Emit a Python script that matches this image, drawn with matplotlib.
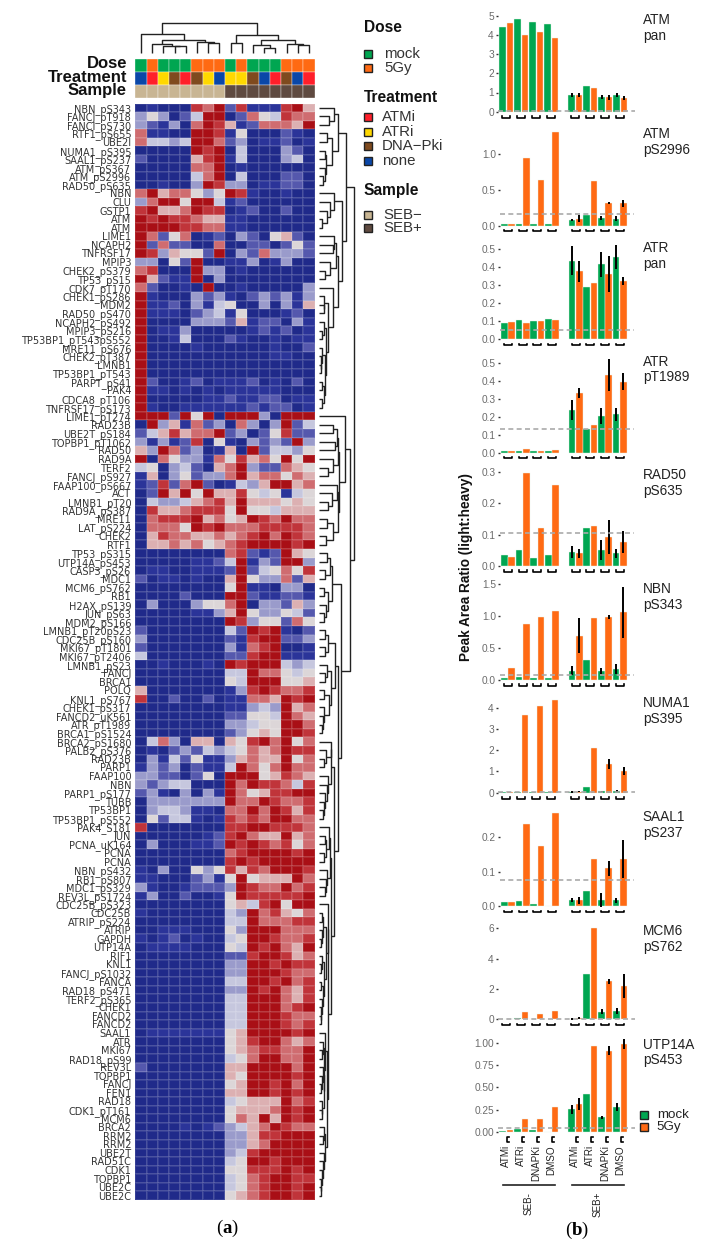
import numpy as np
import matplotlib
matplotlib.use("Agg")
import matplotlib.pyplot as plt
from matplotlib.colors import ListedColormap
from matplotlib.patches import Rectangle

W, H = 705, 1244

plt.rcParams.update({
    "font.family": ["Liberation Sans", "DejaVu Sans"],
    "mathtext.fontset": "custom",
    "mathtext.bf": "Liberation Serif:bold",
    "mathtext.rm": "Liberation Serif",
})

# --- Heatmap data: 0 = dark blue ... 9 = dark red ---
row_labels = [
    "NBN_pS343", "FANCJ_pT918", "FANCI_pS730", "RTF1_pS655", "UBE2I", "NUMA1_pS395", "SAAL1_pS237",
    "ATM_pS367", "ATM_pS2996", "RAD50_pS635", "NBN", "CLU", "GSTP1", "ATM", "ATM", "LIME1", "NCAPH2",
    "TNFRSF17", "MPIP3", "CHEK2_pS379", "TP53_pS15", "CDK7_pT170", "CHEK1_pS286", "MDM2", "RAD50_pS470",
    "NCAPH2_pS492", "MPIP3_pS216", "TP53BP1_pT543pS552", "MRE11_pS676", "CHEK2_pT387", "LMNB1",
    "TP53BP1_pT543", "PARPT_pS41", "PAK4", "CDCA8_pT106", "TNFRSF17_pS173", "LIME1_pT274", "RAD23B",
    "UBE2T_pS184", "TOPBP1_pT1062", "RAD50", "RAD9A", "TERF2", "FANCJ_pS927", "FAAP100_pS667", "ACT",
    "LMNB1_pT20", "RAD9A_pS387", "MRE11", "LAT_pS224", "CHEK2", "RTF1", "TP53_pS315", "UTP14A_pS453",
    "CASP3_pS26", "MDC1", "MCM6_pS762", "RB1", "H2AX_pS139", "JUN_pS63", "MDM2_pS166", "LMNB1_pT20pS23",
    "CDC25B_pS160", "MKI67_pT1801", "MKI67_pT2406", "LMNB1_pS23", "FANCJ", "BRCA1", "POLQ", "KNL1_pS767",
    "CHEK1_pS317", "FANCD2_uK561", "ATR_pT1989", "BRCA1_pS1524", "BRCA2_pS1680", "PALB2_pS376", "RAD23B",
    "PARP1", "FAAP100", "NBN", "PARP1_pS177", "TUBB", "TP53BP1", "TP53BP1_pS552", "PAK4_S181", "JUN",
    "PCNA_uK164", "PCNA", "PCNA", "NBN_pS432", "RB1_pS807", "MDC1_pS329", "REV3L_pS1724", "CDC25B_pS323",
    "CDC25B", "ATRIP_pS224", "ATRIP", "GAPDH", "UTP14A", "RIF1", "KNL1", "FANCJ_pS1032", "FANCA",
    "RAD18_pS471", "TERF2_pS365", "CHEK1", "FANCD2", "FANCD2", "SAAL1", "ATR", "MKI67", "RAD18_pS99",
    "REV3L", "TOPBP1", "FANCJ", "FEN1", "RAD18", "CDK1_pT161", "MCM6", "BRCA2", "RRM2", "RRM2", "UBE2T",
    "RAD51C", "CDK1", "TOPBP1", "UBE2C", "UBE2C",
]
heat_rows = [
    "0100087928111896", "3530249902754877", "3213079861277769", "7110099815000210",
    "7443499723011201", "0000098904000320", "2000068914000340", "0000077901000000",
    "0000047904000220", "0010039833011220", "7967753598100100", "3799599412000000",
    "8966798801200200", "9898876611000000", "9999887711000000", "9725701203205620",
    "9272200700220252", "9836552903273332", "3305290011301300", "7800093301000000",
    "9621190300000000", "7200109001000003", "9100032310232313", "9112031450030316",
    "9111023415000120", "9000033326122031", "9011300000121201", "9001400021001011",
    "9000010000001002", "9000000000001100", "9000000000000000", "9000000000000000",
    "9200120111201020", "9110101011111000", "9000001121122011", "9100111111212201",
    "9992959099930999", "0936172307303924", "2468677923025822", "3131280510323293",
    "6397230160924435", "9075331758675959", "4503420679322765", "1603523379677576",
    "1282792014369967", "0296959668545145", "0433467869666565", "0866788859554666",
    "0788896756987977", "0777598977788887", "0687766767897987", "0667675678999989",
    "0000000078212965", "0000011249132993", "0110011129245758", "2011010069533726",
    "0000000059110330", "0000200099211221", "0300035579033263", "0000011369533542",
    "0000000098355275", "2000000042989102", "3000000021899223", "2000000031789001",
    "4000000022899111", "0010001098999434", "0000000044977545", "0000000054999556",
    "6000000013898778", "8002002011776989", "0000000011343967", "0000000022554976",
    "0000000033455997", "0000000023565998", "0473066065897957", "0102324345767988",
    "0314251136766957", "1323021149757977", "3322025099956876", "3234400097988748",
    "2310303197568899", "0333333397798778", "0344311077979868", "0524410187879977",
    "8000000088998887", "0000001289766967", "0300011298987857", "0000000078999989",
    "0000000089899999", "1030053586879998", "1100023159566697", "3100122239877978",
    "1300200159888889", "0000000056489599", "1000000043978657", "0000000044977788",
    "0011100053999777", "1012010045998778", "0111100054989769", "0000000022899867",
    "0000000033998988", "0000000033999877", "0000000044998978", "0000000033989768",
    "0000000044999768", "0000000044999789", "0000000044999877", "0000000044999878",
    "0111111156999989", "0000000056899767", "0000000056788779", "0000000045799779",
    "2000000066999979", "0000000065999989", "0000000056998979", "0000000066998989",
    "0000000045666978", "0000000056667989", "0000000057696989", "0000101234679877",
    "0000000033688999", "0000000033679999", "0000000034899999", "0000000045998999",
    "0000000055888989", "0000000045789988", "0000000045789989", "0000000056789989",
]

# annotation rows, one entry per heatmap column
dose = ["mock", "5Gy", "mock", "mock", "mock", "5Gy", "5Gy", "5Gy",
        "mock", "5Gy", "mock", "mock", "mock", "5Gy", "5Gy", "5Gy"]
treatment = ["none", "ATMi", "ATRi", "DNA-Pki", "ATMi", "DNA-Pki", "ATRi", "none",
             "ATRi", "ATRi", "DNA-Pki", "none", "ATMi", "DNA-Pki", "none", "ATMi"]
sample = ["SEB-"] * 8 + ["SEB+"] * 8

# dendrograms as (height, left, right), leaves are 1-based positions
col_tree = (30,
            (19, 1, (13, (9, 2, (7, 3, (7, 4, 5))), (10.5, 6, (9.5, 7, 8)))),
            (18, (10, 9, 10), (13, (8, 11, (5, 12, 13)), (9, 14, (7.6, 15, 16)))))

tree_a = (19, (15, 1, (10, 2, 3)), (13, (8, 4, 5), (7, (6, 6, 7), (6, 8, (4, 9, 10)))))
tree_b = (15, 11, (11, 12, (8, 13, (3, 14, 15))))
tree_c = (19, (17, (15, 16, (14, 17, 18)), (11, 19, (6, 20, 21))),
          (14, 22, (9, (5, 23, (5, 24, 25)),
                    (7, (5, 26, (3, 27, 28)),
                     (6, (3, 29, (2, 30, (2, 31, 32))), (5, (3, 33, 34), (3, 35, 36)))))))
tree_w1 = (19, (18, (14, 38, 39), (16, 40, 41)), (14, 42, (9, 43, 44)))
tree_w2 = (19, (18, 45, (13, 46, (9, 47, 48))), (14, (8, 49, 50), (7, 51, 52)))
tree_z1 = (13, (11, (8, 53, 54), (6, 55, 56)), (9, (5, 57, 58), (7, 59, (5, 60, 61))))
tree_p = (9, (6, 62, 63), (6, 64, 65))
tree_q = (12, (8, 66, (6, 67, 68)), (10, (5, 69, 70), (5, 71, (4, 72, (3, 73, 74)))))
tree_r1 = (12, (12, 75, (7, 76, (5, 77, 78))),
           (9, 79, (8, 80, (6, 81, (5, 82, (4, 83, 84))))))
tree_r2 = (11, (10, 85, (7, (6, 86, 87), (5, 88, 89))), (8, 90, (7, 91, (6, 92, 93))))
tree_s1 = (8.5, 94, (7, (4, (3, 95, 96), (3, 97, (2, 98, 99))),
                     (5, (3, 100, (2, 101, 102)),
                      (4, (2, 103, 104), (3, 105, (2, 106, (1.5, 107, 108)))))))
tree_s2 = (6, 109, (5, (4, 110, (3, 111, 112)),
                    (4.5, (4, 113, (3, 114, (2, 115, 116))), (3, 117, (3, 118, 119)))))
tree_s3 = (6, (5, 120, (4, 121, 122)), (5, 123, (4, 124, (3, 125, (2, 126, (1.5, 127, 128))))))
tree_s = (9, tree_s1, (8, tree_s2, tree_s3))
tree_r = (15, tree_r1, (12, tree_r2, tree_s))
tree_z = (22, tree_z1, (19, (16, tree_p, tree_q), tree_r))
tree_y = (26, 37, (20, tree_w1, tree_w2))
row_tree = (35, (27, tree_a, (23, tree_b, tree_c)), (31, tree_y, tree_z))

# --- Bar panels: pairs mock/5Gy, SEB- then SEB+ ---
panel_names = ["ATM\npan", "ATM\npS2996", "ATR\npan", "ATR\npT1989", "RAD50\npS635",
               "NBN\npS343", "NUMA1\npS395", "SAAL1\npS237", "MCM6\npS762", "UTP14A\npS453"]
bar_positions = [0, 1, 2, 3, 4, 5, 6, 7, 9.2, 10.2, 11.2, 12.2, 13.2, 14.2, 15.2, 16.2]
atm_pan = [4.4, 4.6, 4.85, 4.0, 4.65, 4.15, 4.55, 3.85, .85, .87, 1.35, 1.22, .78, .75, .85, .72]
atm_s2996 = [.03, .03, .03, .95, .02, .64, .02, 1.3, .08, .1, .15, .63, .11, .32, .1, .31]
atr_pan = [.09, .095, .105, .09, .1, .1, .115, .105, .435, .376, .287, .313, .415, .36, .455, .322]
atr_t1989 = [.01, .008, .008, .018, .01, .01, .01, .016, .235, .33, .13, .152, .205, .43, .213, .395]
rad50_s635 = [.035, .03, .05, .297, .027, .12, .035, .26, .045, .04, .12, .128, .052, .093, .04, .078]
nbn_s343 = [.03, .19, .04, .88, .03, .975, .03, 1.08, .14, .69, .31, .97, .135, .98, .17, 1.06]
numa1_s395 = [.03, .03, .03, 3.68, .03, 4.1, .03, 4.38, .03, .05, .27, 2.1, .06, 1.35, .08, 1.03]
saal1_s237 = [.012, .012, .014, .238, .007, .175, .001, .268, .017, .017, .044, .136, .018, .11, .017, .136]
mcm6_s762 = [.05, .05, .09, .45, .05, .37, .02, .52, .03, .08, 3.0, 6.05, .5, 2.5, .55, 2.2]
utp14a_s453 = [.015, .025, .03, .145, .025, .14, .002, .275, .255, .315, .43, .96, .165, .91, .285, .99]
panel_values = [atm_pan, atm_s2996, atr_pan, atr_t1989, rad50_s635,
                nbn_s343, numa1_s395, saal1_s237, mcm6_s762, utp14a_s453]

# error bars only exist for the SEB+ pairs
panel_errors = [
    [.1, .12, 0, 0, .1, .12, .1, .12],
    [.02, .05, 0, 0, .03, .015, .04, .05],
    [.08, .057, 0, 0, .07, .1, .065, .023],
    [.055, .027, 0, 0, .045, .09, .035, .047],
    [.02, .015, 0, 0, .032, .055, .015, .035],
    [.07, .27, 0, 0, .045, .03, .08, .4],
    [.03, .03, 0, 0, .03, .22, .05, .18],
    [.006, .01, 0, 0, .019, .022, .007, .055],
    [.05, .06, 0, 0, .18, .15, .18, .8],
    [.05, .065, 0, 0, .015, .05, .045, .055],
]
panel_cutoffs = [.03, .165, .05, .133, .105, .075, .03, .077, .05, .05]
panel_ticks = [
    [0, 1, 2, 3, 4, 5], [0, .5, 1], [0, .1, .2, .3, .4, .5], [0, .1, .2, .3, .4, .5], [0, .1, .2, .3],
    [0, .5, 1, 1.5], [0, 1, 2, 3, 4], [0, .1, .2], [0, 2, 4, 6], [0, .25, .5, .75, 1],
]
panel_tick_labels = [
    ["0", "1", "2", "3", "4", "5"], ["0.0", "0.5", "1.0"], ["0.0", "0.1", "0.2", "0.3", "0.4", "0.5"],
    ["0.0", "0.1", "0.2", "0.3", "0.4", "0.5"], ["0.0", "0.1", "0.2", "0.3"], ["0.0", "0.5", "1.0", "1.5"],
    ["0", "1", "2", "3", "4"], ["0.0", "0.1", "0.2"], ["0", "2", "4", "6"],
    ["0.00", "0.25", "0.50", "0.75", "1.00"],
]
inhibitors = ["ATMi", "ATRi", "DNAPKi", "DMSO", "ATMi", "ATRi", "DNAPKi", "DMSO"]

# --- Layout (pixels) ---
panel_zero_px = [111.7, 225.7, 339.3, 452.7, 566, 679.7, 792.7, 906.3, 1019.3, 1132]
panel_top_px = [15.7, 154, 249, 362.7, 472, 584, 707.7, 837, 928.3, 1042.7]
panel_text_px = [28, 142, 256, 369.5, 483, 597, 711, 825, 939, 1052.5]
panel_left_px = [498, 500, 500, 500, 500, 500, 498, 500, 498, 498]
panel_right_px = [635, 634, 634, 634, 634, 634, 635, 634, 635, 635]

GREEN, ORANGE = "#00a651", "#ff6a13"
dose_colors = {"mock": GREEN, "5Gy": ORANGE}
treatment_colors = {"ATMi": "#ff1f2a", "ATRi": "#ffd800", "DNA-Pki": "#7f4a1e", "none": "#0a47a8"}
sample_colors = {"SEB-": "#c8b593", "SEB+": "#5f4a40"}
heat_colors = ["#202a8a", "#2b3499", "#5558ad", "#9a9bcb", "#c6c7de",
               "#dcd6d8", "#dcb0b2", "#cf6c70", "#c0343a", "#a90f16"]

fig = plt.figure(figsize=(W / 100, H / 100), dpi=100, facecolor="white")


def px_axes(x0, y0, x1, y1):
    return fig.add_axes([x0 / W, 1 - y1 / H, (x1 - x0) / W, (y1 - y0) / H])


def px_text(x, y, s, **kw):
    return fig.text(x / W, 1 - y / H, s, **kw)


def draw_tree(ax, node, horizontal):
    # returns (leaf position, height) of the node, drawing the U shapes on the way
    if not isinstance(node, tuple):
        return node - 0.5, 0
    h, left, right = node
    p1, h1 = draw_tree(ax, left, horizontal)
    p2, h2 = draw_tree(ax, right, horizontal)
    hs, ps = [h1, h, h, h2], [p1, p1, p2, p2]
    if horizontal:
        ax.plot(hs, ps, color="#222222", lw=1.0, solid_capstyle="butt", clip_on=False)
    else:
        ax.plot(ps, hs, color="#222222", lw=1.0, solid_capstyle="butt", clip_on=False)
    return (p1 + p2) / 2, h


# ============================================================
# (a) heatmap
# ============================================================
matrix = np.array([[int(c) for c in r] for r in heat_rows])
ax_heat = px_axes(135.3, 103.5, 314.7, 1200)
ax_heat.pcolormesh(matrix, cmap=ListedColormap(heat_colors), vmin=-0.5, vmax=9.5,
                   edgecolors=(1, 1, 1, 0.1), linewidth=0.3)
ax_heat.set_xlim(0, 16)
ax_heat.set_ylim(len(row_labels), 0)
ax_heat.set_xticks([])
ax_heat.set_yticks(np.arange(len(row_labels)) + 0.5)
# the wider DejaVu keeps the label width without the rows running into each other
ax_heat.set_yticklabels(row_labels, fontsize=7.0, color="#333333", family="DejaVu Sans")
ax_heat.tick_params(axis="y", length=0, pad=3)
for s in ax_heat.spines.values():
    s.set_visible(False)

# annotation bars
ax_ann = px_axes(135.3, 59, 314.7, 98.5)
for row, (values, colors) in enumerate([(dose, dose_colors), (treatment, treatment_colors),
                                        (sample, sample_colors)]):
    for col, v in enumerate(values):
        ax_ann.add_patch(Rectangle((col, row), 1, 1, facecolor=colors[v], edgecolor="#ffffff", lw=0.25))
ax_ann.set_xlim(0, 16)
ax_ann.set_ylim(3, 0)
ax_ann.axis("off")
for y, name in zip([64, 77.5, 91], ["Dose", "Treatment", "Sample"]):
    px_text(127, y, name, ha="right", va="center", fontsize=12, fontweight="bold", color="#111111")

# dendrograms
ax_top = px_axes(135.3, 22.7, 314.7, 52.7)
draw_tree(ax_top, col_tree, False)
ax_top.set_xlim(0, 16)
ax_top.set_ylim(0, 30)
ax_top.axis("off")

ax_side = px_axes(319.3, 103.5, 354.3, 1200)
draw_tree(ax_side, row_tree, True)
ax_side.set_xlim(0, 35)
ax_side.set_ylim(len(row_labels), 0)
ax_side.axis("off")


def legend_key(x, y, color):
    fig.add_artist(Rectangle((x / W, 1 - (y + 4) / H), 8 / W, 8 / H, transform=fig.transFigure,
                             facecolor=color, edgecolor="#222222", lw=1.0))


# legends of the heatmap
legend_groups = [
    ("Dose", 27, [("mock", GREEN, 54, 384), ("5Gy", ORANGE, 68, 384)]),
    ("Treatment", 98, [("ATMi", treatment_colors["ATMi"], 117, 382), ("ATRi", treatment_colors["ATRi"], 132, 382),
                       ("DNA\u2212Pki", treatment_colors["DNA-Pki"], 146, 382),
                       ("none", treatment_colors["none"], 161, 382)]),
    ("Sample", 190, [("SEB\u2212", sample_colors["SEB-"], 215, 383), ("SEB+", sample_colors["SEB+"], 228, 383)]),
]
for title, ty, entries in legend_groups:
    px_text(364, ty, title, ha="left", va="center", fontsize=11.2, fontweight="bold", color="#111111")
    for name, color, y, tx in entries:
        legend_key(364, y, color)
        px_text(tx, y, name, ha="left", va="center", fontsize=10.8, color="#333333")

# ============================================================
# (b) bar panels
# ============================================================
x = np.array(bar_positions)
pair_centers = (x[::2] + x[1::2]) / 2

for i, values in enumerate(panel_values):
    ax = px_axes(panel_left_px[i], panel_top_px[i], panel_right_px[i], panel_zero_px[i])
    top_tick = panel_ticks[i][-1]
    scale = (panel_zero_px[i] - panel_top_px[i]) / top_tick  # px per unit
    ax.bar(x, values, width=0.9, color=[GREEN, ORANGE] * 8, edgecolor="#e8f5e9", linewidth=0.3, clip_on=False)
    ax.errorbar(x[8:], values[8:], yerr=panel_errors[i], fmt="none", ecolor="black", elinewidth=1.4,
                clip_on=False, zorder=4)
    ax.axhline(panel_cutoffs[i], color="#aaaaaa", linestyle=(0, (3, 2)), lw=1.2, zorder=5, clip_on=False)
    for c in pair_centers:
        if i < len(panel_values) - 1:
            ax.plot([c - .55, c - .55, c + .55, c + .55],
                    [-4.3 / scale, -5.8 / scale, -5.8 / scale, -4.3 / scale],
                    color="black", lw=1.2, clip_on=False)
        else:
            ax.plot([c + .3, c + .05, c + .05, c + .3],
                    [-4.7 / scale, -4.7 / scale, -9.7 / scale, -9.7 / scale],
                    color="black", lw=1.2, clip_on=False)
    ax.set_xlim(-0.6, 17.65)
    ax.set_ylim(0, top_tick)
    ax.set_yticks(panel_ticks[i])
    ax.set_yticklabels(panel_tick_labels[i], fontsize=7.3, color="#6b6b6b")
    ax.tick_params(axis="y", length=1.5, width=1.0, color="#333333", pad=1.5)
    ax.set_xticks([])
    for s in ax.spines.values():
        s.set_visible(False)
    ax.patch.set_alpha(0)
    px_text(642.7, panel_text_px[i], panel_names[i], ha="left", va="center", fontsize=9.8,
            color="#222222", linespacing=1.15)
    if i == len(panel_values) - 1:
        for c, name in zip(pair_centers, inhibitors):
            ax.text(c, -13 / scale, name, rotation=90, ha="center", va="top", fontsize=7.1, color="#222222")
        ax.plot([pair_centers[0] - .45, pair_centers[3] + .45], [-53 / scale] * 2, color="#222222", lw=1.2,
                clip_on=False)
        ax.plot([pair_centers[4] - .45, pair_centers[7] + .45], [-53 / scale] * 2, color="#222222", lw=1.2,
                clip_on=False)
        ax.text(pair_centers[:4].mean(), -60 / scale, "SEB-", rotation=90, ha="center", va="top", fontsize=7.1,
                color="#222222")
        ax.text(pair_centers[4:].mean(), -60 / scale, "SEB+", rotation=90, ha="center", va="top", fontsize=7.1,
                color="#222222")

px_text(466, 567, "Peak Area Ratio (light:heavy)", rotation=90, ha="center", va="center",
        fontsize=9.8, fontweight="bold", color="#111111")

for y, name, color in [(1115, "mock", GREEN), (1127, "5Gy", ORANGE)]:
    legend_key(639.5, y, color)
    px_text(656.7, y, name, ha="left", va="center", fontsize=9.6, color="#222222")

# panel captions
px_text(227.7, 1228, r"($\mathbf{a}$)", ha="center", va="center", fontsize=13.5, family="Liberation Serif")
px_text(576.7, 1230, r"($\mathbf{b}$)", ha="center", va="center", fontsize=13.5, family="Liberation Serif")

fig.savefig("out.png", dpi=100)
